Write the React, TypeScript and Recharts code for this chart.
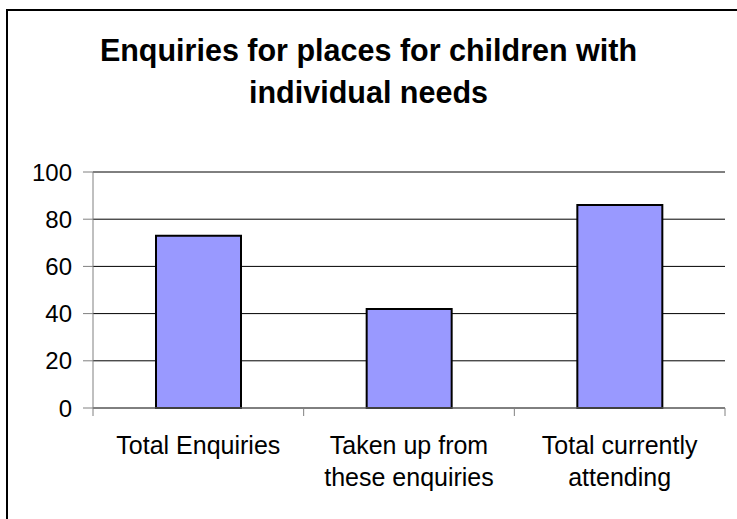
import { BarChart, Bar, XAxis, YAxis, CartesianGrid } from "recharts";

const categories = ["Total Enquiries", "Taken up from these enquiries", "Total currently attending"];
const categoryLines = [["Total Enquiries"], ["Taken up from", "these enquiries"], ["Total currently", "attending"]];
const enquiryValues = [73, 42, 86];
const yTicks = [0, 20, 40, 60, 80, 100];

const data = categories.map((name, i) => ({ name, value: enquiryValues[i] }));

const FONT = '"Liberation Sans", Arial, sans-serif';

interface TickProps {
  x?: number;
  y?: number;
  index?: number;
  visibleTicksCount?: number;
  payload?: { value: string; offset?: number };
}

// Excel-style category tick: marks sit on the band edges, label wraps under the band
function CategoryTick({ x = 0, y = 0, index = 0, visibleTicksCount = 0, payload }: TickProps) {
  const half = payload?.offset ?? 105;
  const isLast = index === visibleTicksCount - 1;
  const lines = categoryLines[index] ?? [payload?.value ?? ""];
  return (
    <g>
      <line x1={x - half} x2={x - half} y1={y - 8} y2={y} stroke="#808080" />
      {isLast && <line x1={x + half} x2={x + half} y1={y - 8} y2={y} stroke="#808080" />}
      <text
        x={x}
        y={y + 38}
        textAnchor="middle"
        fill="#000"
        style={{ fontSize: 25, fontFamily: FONT }}
      >
        {lines.map((line, i) => (
          <tspan key={i} x={x} dy={i === 0 ? 0 : 32}>
            {line}
          </tspan>
        ))}
      </text>
    </g>
  );
}

export default function App() {
  return (
    <div
      style={{
        position: "absolute",
        left: 0,
        top: 0,
        width: 737,
        height: 519,
        overflow: "hidden",
        background: "#fff",
        fontFamily: FONT,
      }}
    >
      <div
        style={{
          position: "absolute",
          left: 6,
          top: 9,
          width: 800,
          height: 600,
          borderLeft: "2px solid #000",
          borderTop: "2px solid #000",
        }}
      />
      <div
        style={{
          position: "absolute",
          left: 0,
          top: 29,
          width: 737,
          textAlign: "center",
          fontSize: 30.5,
          fontWeight: "bold",
          lineHeight: "42px",
          color: "#000",
        }}
      >
        Enquiries for places for children with
        <br />
        individual needs
      </div>
      <div style={{ position: "absolute", left: 0, top: 0 }}>
        <BarChart
          width={737}
          height={519}
          data={data}
          margin={{ top: 172, right: 12, bottom: 51, left: 0 }}
        >
          <CartesianGrid vertical={false} stroke="#000" />
          <XAxis
            dataKey="name"
            height={60}
            interval={0}
            axisLine={{ stroke: "#808080" }}
            tickLine={{ stroke: "none" }}
            tickSize={8}
            tickMargin={0}
            tick={<CategoryTick />}
          />
          <YAxis
            width={93}
            domain={[0, 100]}
            ticks={yTicks}
            interval={0}
            axisLine={{ stroke: "#808080" }}
            tickLine={{ stroke: "#808080" }}
            tickSize={10}
            tickMargin={11}
            tick={{ fill: "#000", fontSize: 24, fontFamily: FONT }}
          />
          <Bar
            dataKey="value"
            fill="#9999FF"
            stroke="#000"
            strokeWidth={2}
            barSize={85}
            isAnimationActive={false}
          />
        </BarChart>
      </div>
    </div>
  );
}
